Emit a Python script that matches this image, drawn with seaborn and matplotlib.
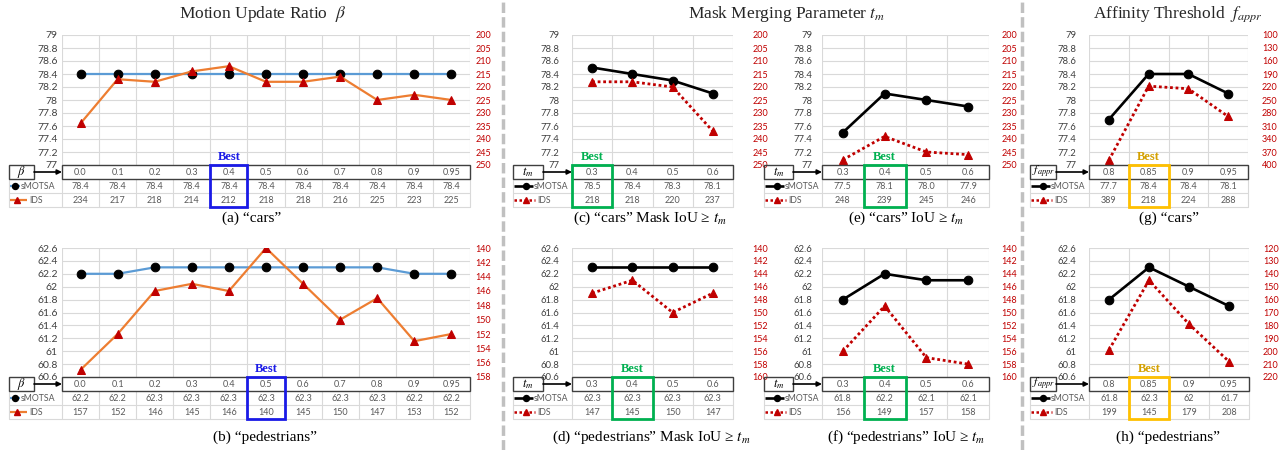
import numpy as np
import pandas as pd
import matplotlib
matplotlib.use("Agg")
import matplotlib.pyplot as plt
import seaborn as sns
from matplotlib.patches import Rectangle
from matplotlib.lines import Line2D

# ---------------- data ----------------
beta_cats = ["0.0", "0.1", "0.2", "0.3", "0.4", "0.5", "0.6", "0.7", "0.8", "0.9", "0.95"]
a_smotsa = [78.4, 78.4, 78.4, 78.4, 78.4, 78.4, 78.4, 78.4, 78.4, 78.4, 78.4]
a_ids = [234, 217, 218, 214, 212, 218, 218, 216, 225, 223, 225]
b_smotsa = [62.2, 62.2, 62.3, 62.3, 62.3, 62.3, 62.3, 62.3, 62.3, 62.2, 62.2]
b_ids = [157, 152, 146, 145, 146, 140, 145, 150, 147, 153, 152]

tm_cats = ["0.3", "0.4", "0.5", "0.6"]
c_smotsa = [78.5, 78.4, 78.3, 78.1]
c_ids = [218, 218, 220, 237]
d_smotsa = [62.3, 62.3, 62.3, 62.3]
d_ids = [147, 145, 150, 147]
e_smotsa = [77.5, 78.1, 78.0, 77.9]
e_ids = [248, 239, 245, 246]
f_smotsa = [61.8, 62.2, 62.1, 62.1]
f_ids = [156, 149, 157, 158]

fa_cats = ["0.8", "0.85", "0.9", "0.95"]
g_smotsa = [77.7, 78.4, 78.4, 78.1]
g_ids = [389, 218, 224, 288]
h_smotsa = [61.8, 62.3, 62.0, 61.7]
h_ids = [199, 145, 179, 208]

cars_yticks = [77.0, 77.2, 77.4, 77.6, 77.8, 78.0, 78.2, 78.4, 78.6, 78.8, 79.0]
ped_yticks = [60.6, 60.8, 61.0, 61.2, 61.4, 61.6, 61.8, 62.0, 62.2, 62.4, 62.6]
ids_ticks_a = [200, 205, 210, 215, 220, 225, 230, 235, 240, 245, 250]
ids_ticks_b = [140, 142, 144, 146, 148, 150, 152, 154, 156, 158]
ids_ticks_d = [140, 142, 144, 146, 148, 150, 152, 154, 156, 158, 160]
ids_ticks_g = [100, 130, 160, 190, 220, 250, 280, 310, 340, 370, 400]
ids_ticks_h = [120, 130, 140, 150, 160, 170, 180, 190, 200, 210, 220]

# ---------------- style ----------------
sns.set_style("white")
plt.rcParams["font.family"] = ["Lato", "DejaVu Sans"]
plt.rcParams["mathtext.fontset"] = "stix"
SERIF = ["Liberation Serif", "DejaVu Serif"]

W, H = 1282, 450
fig = plt.figure(figsize=(W / 100, H / 100), dpi=100)


def fax(x0, y0, x1, y1):
    return fig.add_axes([x0 / W, 1 - y1 / H, (x1 - x0) / W, (y1 - y0) / H])


BLUE_LINE = "#5b9bd5"
ORANGE = "#ed7d31"
RED = "#c00000"
GRID = "#d9d9d9"
BOXC = "#3f3f3f"
TXT = "#595959"

BLUE_B = ("#1a1ae6", "#1a1ae6")
GREEN_B = ("#00b050", "#00b050")
GOLD_B = ("#ffc000", "#d4a000")

f1 = lambda v: f"{v:.1f}"
fg = lambda v: f"{v:g}"

panels = [
    dict(cats=beta_cats, sm=a_smotsa, ids=a_ids, fmt=f1, best=4, bc=BLUE_B, sym=r"$\beta$",
         yt=cars_yticks, y2=ids_ticks_a, style="excel", px=(62, 470), py=(35, 165), box=(9, 34),
         lpad=3, rpad=4, lfs=7.5, cap="(a) \u201ccars\u201d", cx=252, cy=218),
    dict(cats=beta_cats, sm=b_smotsa, ids=b_ids, fmt=f1, best=5, bc=BLUE_B, sym=r"$\beta$",
         yt=ped_yticks, y2=ids_ticks_b, style="excel", px=(62, 470), py=(248, 377), box=(9, 34),
         lpad=3, rpad=4, lfs=7.5, cap="(b) \u201cpedestrians\u201d", cx=265, cy=437),
    dict(cats=tm_cats, sm=c_smotsa, ids=c_ids, fmt=f1, best=0, bc=GREEN_B, sym=r"$t_m$",
         yt=cars_yticks, y2=ids_ticks_a, style="paper", px=(572, 733), py=(35, 165), box=(513, 543),
         lpad=9, rpad=14, lfs=6.8, cap="(c) \u201ccars\u201d Mask IoU \u2265 $t_m$", cx=650, cy=218),
    dict(cats=tm_cats, sm=d_smotsa, ids=d_ids, fmt=f1, best=1, bc=GREEN_B, sym=r"$t_m$",
         yt=ped_yticks, y2=ids_ticks_d, style="paper", px=(572, 733), py=(248, 377), box=(513, 543),
         lpad=9, rpad=14, lfs=6.8, cap="(d) \u201cpedestrians\u201d Mask IoU \u2265 $t_m$", cx=651, cy=437),
    dict(cats=tm_cats, sm=e_smotsa, ids=e_ids, fmt=f1, best=1, bc=GREEN_B, sym=r"$t_m$",
         yt=cars_yticks, y2=ids_ticks_a, style="paper", px=(822, 989), py=(35, 165), box=(764, 793),
         lpad=7, rpad=9, lfs=6.8, cap="(e) \u201ccars\u201d IoU \u2265 $t_m$", cx=906, cy=218),
    dict(cats=tm_cats, sm=f_smotsa, ids=f_ids, fmt=f1, best=1, bc=GREEN_B, sym=r"$t_m$",
         yt=ped_yticks, y2=ids_ticks_d, style="paper", px=(822, 989), py=(248, 377), box=(764, 793),
         lpad=7, rpad=9, lfs=6.8, cap="(f) \u201cpedestrians\u201d IoU \u2265 $t_m$", cx=906, cy=437),
    dict(cats=fa_cats, sm=g_smotsa, ids=g_ids, fmt=f1, best=1, bc=GOLD_B, sym=r"$f_{appr}$",
         yt=cars_yticks, y2=ids_ticks_g, style="paper", px=(1089, 1248), py=(35, 165), box=(1030, 1056),
         lpad=9, rpad=10, lfs=6.8, cap="(g) \u201ccars\u201d", cx=1169, cy=218),
    dict(cats=fa_cats, sm=h_smotsa, ids=h_ids, fmt=fg, best=1, bc=GOLD_B, sym=r"$f_{appr}$",
         yt=ped_yticks, y2=ids_ticks_h, style="paper", px=(1089, 1249), py=(248, 377), box=(1030, 1056),
         lpad=9, rpad=10, lfs=6.8, cap="(h) \u201cpedestrians\u201d", cx=1168, cy=437),
]


def draw(p):
    n = len(p["cats"])
    x0, x1 = p["px"]
    y0, y1 = p["py"]
    excel = p["style"] == "excel"
    sm_col = BLUE_LINE if excel else "black"
    ids_col = ORANGE if excel else RED
    ids_ls = "-" if excel else (0, (1.0, 1.0))
    df = pd.DataFrame({"pos": np.arange(n), "sMOTSA": p["sm"], "IDS": p["ids"]})

    ax = fax(x0, y0, x1, y1)
    sns.lineplot(data=df, x="pos", y="sMOTSA", ax=ax, color=sm_col,
                 lw=1.6 if excel else 1.9, marker="o", markersize=6.2,
                 markerfacecolor="black", markeredgecolor="black", zorder=3)
    ax.set_xlim(-0.5, n - 0.5)
    ax.set_ylim(p["yt"][0], p["yt"][-1])
    ax.set_yticks(p["yt"])
    ax.set_yticklabels([f"{v:g}" for v in p["yt"]])
    ax.set_xticks([])
    ax.set_xticks(np.arange(n + 1) - 0.5, minor=True)
    ax.grid(True, which="major", axis="y", color=GRID, lw=0.8)
    ax.grid(True, which="minor", axis="x", color=GRID, lw=0.8)
    ax.tick_params(axis="y", length=0, pad=p["lpad"], labelsize=p["lfs"], labelcolor="#404040")
    ax.tick_params(axis="x", which="both", length=0, labelbottom=False)
    for s in ax.spines.values():
        s.set_visible(False)
    ax.set_xlabel("")
    ax.set_ylabel("")

    ax2 = ax.twinx()
    sns.lineplot(data=df, x="pos", y="IDS", ax=ax2, color=ids_col,
                 lw=1.6 if excel else 2.0, linestyle=ids_ls, marker="^", markersize=6.2,
                 markerfacecolor=RED, markeredgecolor=RED, zorder=4)
    ax2.set_xlim(-0.5, n - 0.5)
    ax2.set_ylim(p["y2"][-1], p["y2"][0])
    ax2.set_yticks(p["y2"])
    ax2.set_yticklabels([str(v) for v in p["y2"]])
    ax2.tick_params(axis="y", length=0, pad=p["rpad"], labelsize=6.5, labelcolor=RED)
    ax2.grid(False)
    for s in ax2.spines.values():
        s.set_visible(False)
    ax2.set_xlabel("")
    ax2.set_ylabel("")

    # ---- table ----
    bx0, bx1 = p["box"]
    upx = n / (x1 - x0)

    def dx(px):
        return -0.5 + (px - x0) * upx

    tax = fax(bx0, y1, x1, y1 + 42)
    L = dx(bx0)
    R = n - 0.5
    tax.set_xlim(L, R)
    tax.set_ylim(3, 0)
    tax.axis("off")
    for k in range(n + 1):
        tax.plot([k - 0.5, k - 0.5], [1, 3], color=GRID, lw=0.8, clip_on=False)
    tax.plot([L, L], [1, 3], color=GRID, lw=0.8, clip_on=False)
    for yy in (2, 3):
        tax.plot([L, R], [yy, yy], color=GRID, lw=0.8, clip_on=False)
    tax.add_patch(Rectangle((-0.5, 0), n, 1, fill=False, ec=BOXC, lw=1.0, clip_on=False, zorder=3))
    tax.add_patch(Rectangle((L, 0), dx(bx1) - L, 1, fill=False, ec=BOXC, lw=1.0, clip_on=False, zorder=3))
    tax.annotate("", xy=(-0.5, 0.5), xytext=(dx(bx1), 0.5),
                 arrowprops=dict(arrowstyle="-|>", color="black", lw=1.2,
                                 mutation_scale=7, shrinkA=0, shrinkB=0), zorder=4)
    tax.text((L + dx(bx1)) / 2, 0.5, p["sym"], ha="center", va="center",
             fontsize=8.5 if p["sym"] == r"$f_{appr}$" else 9, color="black")
    for i in range(n):
        tax.text(i, 0.52, p["cats"][i], ha="center", va="center", fontsize=6.5, color=TXT)
        tax.text(i, 1.52, p["fmt"](p["sm"][i]), ha="center", va="center", fontsize=6.5, color=TXT)
        tax.text(i, 2.52, str(p["ids"][i]), ha="center", va="center", fontsize=6.5, color=TXT)

    # legend glyphs (line start, line end, marker, text start) in px from box left
    if excel:
        sm_g, ids_g = (1, 11, 6, 12), (1, 18, 8, 20)
    else:
        sm_g, ids_g = (1, 20, 13, 21), (1, 22, 13, 24)
    tax.plot([dx(bx0 + sm_g[0]), dx(bx0 + sm_g[1])], [1.5, 1.5], color=sm_col,
             lw=1.6 if excel else 1.9, clip_on=False, solid_capstyle="butt")
    tax.plot([dx(bx0 + sm_g[2])], [1.5], marker="o", ms=4.3, color="black", clip_on=False)
    tax.text(dx(bx0 + sm_g[3]), 1.52, "sMOTSA", ha="left", va="center", fontsize=6.3, color=TXT)
    tax.plot([dx(bx0 + ids_g[0]), dx(bx0 + ids_g[1])], [2.5, 2.5], color=ids_col,
             lw=1.6 if excel else 1.8, ls=ids_ls, clip_on=False, solid_capstyle="butt")
    tax.plot([dx(bx0 + ids_g[2])], [2.5], marker="^", ms=4.3, color=RED, clip_on=False)
    tax.text(dx(bx0 + ids_g[3]), 2.52, "IDS", ha="left", va="center", fontsize=6.3, color=TXT)

    # best box
    b = p["best"]
    tax.add_patch(Rectangle((b - 0.5, 0), 1, 3, fill=False, ec=p["bc"][0], lw=2.0,
                            clip_on=False, zorder=6))
    tax.annotate("Best", xy=(b, 0), xytext=(0, 1.5), textcoords="offset points",
                 ha="center", va="bottom", fontsize=9, fontweight="bold",
                 family=SERIF, color=p["bc"][1], annotation_clip=False)

    fig.text(p["cx"] / W, 1 - p["cy"] / H, p["cap"], ha="center", va="center",
             fontsize=11, family=SERIF, color="black")


for p in panels:
    draw(p)

fig.text(263 / W, 1 - 14 / H, r"Motion Update Ratio  $\beta$", ha="center", va="center",
         fontsize=12.5, family=SERIF)
fig.text(787 / W, 1 - 14 / H, r"Mask Merging Parameter $t_m$", ha="center", va="center",
         fontsize=12.5, family=SERIF)
fig.text(1178 / W, 1 - 14 / H, r"Affinity Threshold  $f_{appr}$", ha="center", va="center",
         fontsize=12.5, family=SERIF)

for sx in (503, 1022):
    fig.add_artist(Line2D([sx / W, sx / W], [0, 1], color="#c0c0c0", lw=2.5,
                          ls=(0, (3, 1.2)), transform=fig.transFigure))

fig.savefig("out.png", dpi=100, facecolor="white")
